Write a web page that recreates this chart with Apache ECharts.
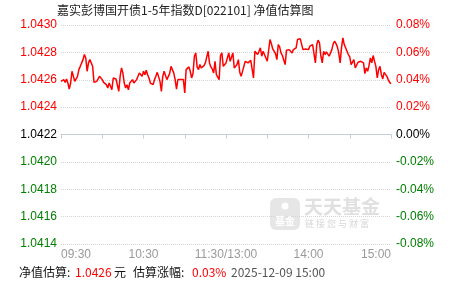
<!DOCTYPE html>
<html><head><meta charset="utf-8">
<script src="https://cdn.jsdelivr.net/npm/echarts@6/dist/echarts.min.js"></script>
<style>html,body{margin:0;padding:0;background:#fff}#c{width:451px;height:281px}</style>
</head><body><div id="c"></div>
<script>
const chartTitle = '嘉实彭博国开债1-5年指数D[022101] 净值估算图';
const timeTickLabels = ['09:30', '', '10:30', '', '11:30/13:00', '', '14:00', '', '15:00'];
const baseNav = 1.0422;
const navMin = 1.0414, navMax = 1.0430, navStep = 0.0002;
const pctMin = -0.08, pctMax = 0.08, pctStep = 0.02;
const estNav = '1.0426';
const estChange = '0.03%';
const estTime = '2025-12-09 15:00';
// one value per trading minute, 09:30 .. 15:00 (241 points)
const navValues = [
  1.042588,1.042576,1.042601,1.042581,1.042606,1.042576,1.042532,1.042576,1.042662,1.042650,
  1.042588,1.042588,1.042625,1.042674,1.042698,1.042723,1.042747,1.042784,1.042759,1.042662,
  1.042723,1.042747,1.042752,1.042698,1.042581,1.042588,1.042588,1.042606,1.042625,1.042613,
  1.042601,1.042581,1.042571,1.042564,1.042540,1.042576,1.042552,1.042527,1.042613,1.042618,
  1.042606,1.042601,1.042515,1.042625,1.042686,1.042650,1.042576,1.042540,1.042564,1.042527,
  1.042576,1.042564,1.042601,1.042576,1.042564,1.042601,1.042625,1.042650,1.042662,1.042625,
  1.042662,1.042637,1.042669,1.042637,1.042613,1.042576,1.042588,1.042564,1.042601,1.042625,
  1.042654,1.042662,1.042588,1.042515,1.042625,1.042662,1.042674,1.042601,1.042613,1.042645,
  1.042698,1.042711,1.042650,1.042601,1.042532,1.042601,1.042613,1.042601,1.042588,1.042601,
  1.042503,1.042674,1.042686,1.042694,1.042662,1.042613,1.042645,1.042772,1.042796,1.042694,
  1.042674,1.042711,1.042686,1.042698,1.042703,1.042723,1.042735,1.042808,1.042723,1.042694,
  1.042679,1.042650,1.042735,1.042637,1.042625,1.042601,1.042777,1.042796,1.042698,1.042703,
  1.042723,1.042759,1.042796,1.042735,1.042747,1.042796,1.042686,1.042698,1.042711,1.042747,
  1.042654,1.042625,1.042613,1.042698,1.042735,1.042723,1.042723,1.042730,1.042742,1.042747,
  1.042613,1.042808,1.042796,1.042784,1.042808,1.042833,1.042772,1.042808,1.042796,1.042759,
  1.042735,1.042723,1.042894,1.042864,1.042825,1.042816,1.042791,1.042747,1.042857,1.042840,
  1.042796,1.042777,1.042791,1.042711,1.042816,1.042820,1.042820,1.042816,1.042796,1.042820,
  1.042816,1.042833,1.042894,1.042906,1.042899,1.042913,1.042820,1.042808,1.042825,1.042833,
  1.042820,1.042845,1.042833,1.042857,1.042869,1.042723,1.042857,1.042889,1.042869,1.042772,
  1.042723,1.042808,1.042784,1.042803,1.042791,1.042772,1.042759,1.042820,1.042864,1.042882,
  1.042864,1.042840,1.042796,1.042723,1.042833,1.042906,1.042857,1.042864,1.042808,1.042784,
  1.042767,1.042711,1.042723,1.042747,1.042686,1.042698,1.042728,1.042723,1.042735,1.042747,
  1.042723,1.042645,1.042686,1.042662,1.042703,1.042759,1.042723,1.042777,1.042735,1.042698,
  1.042613,1.042674,1.042698,1.042637,1.042606,1.042654,1.042650,1.042625,1.042601,1.042581,
  1.042571
];

const FONT = '"Noto Sans CJK SC", "Liberation Sans", sans-serif';
function signColor(diff) {
  if (Math.abs(diff) < 1e-9) return '#000000';
  return diff > 0 ? '#ff0000' : '#008000';
}

const chart = echarts.init(document.getElementById('c'), null, {renderer: 'canvas'});
chart.setOption({
  animation: false,
  backgroundColor: '#ffffff',
  title: [
    {text: chartTitle, left: 57, top: 4, padding: 0,
     textStyle: {fontFamily: FONT, fontSize: 12, fontWeight: 'normal', color: '#222'}},
    {text: '{a|净值估算:}{r|' + estNav + '}{y|元}{b|估算涨幅:}{p|' + estChange + '}{g|' + estTime + '}',
     left: 19, top: 265, padding: 0,
     textStyle: {fontFamily: FONT, fontSize: 12, fontWeight: 'normal',
       rich: {
         a: {fontFamily: FONT, fontSize: 12, color: '#111', lineHeight: 14, width: 56},
         r: {fontFamily: FONT, fontSize: 12, color: '#ff0000', lineHeight: 14, width: 39},
         y: {fontFamily: FONT, fontSize: 12, color: '#111', lineHeight: 14, width: 19},
         b: {fontFamily: FONT, fontSize: 12, color: '#111', lineHeight: 14, width: 59},
         p: {fontFamily: FONT, fontSize: 12, color: '#ff0000', lineHeight: 14, width: 39},
         g: {fontFamily: FONT, fontSize: 12, color: '#555', lineHeight: 14}
       }}}
  ],
  grid: {left: 61, right: 60, top: 25, bottom: 37, containLabel: false},
  xAxis: {
    type: 'value', min: 0, max: 240, interval: 30,
    axisLine: {show: true, lineStyle: {color: '#c4cfda', width: 1}},
    axisTick: {show: true, length: 4, lineStyle: {color: '#c4cfda'}},
    splitLine: {show: false},
    axisLabel: {
      color: '#9a9a9a', fontFamily: '"Liberation Sans", Arial, sans-serif', fontSize: 12, margin: 5,
      alignMinLabel: 'left', alignMaxLabel: 'right', showMinLabel: true, showMaxLabel: true,
      formatter: function (v) { return timeTickLabels[Math.round(v / 30)] || ''; }
    }
  },
  yAxis: [
    {
      type: 'value', min: navMin, max: navMax, interval: navStep, position: 'left',
      axisLine: {show: false}, axisTick: {show: false},
      splitLine: {show: true, lineStyle: {color: '#d4d4d4', type: 'dotted', width: 1}},
      axisLabel: {
        margin: 4, fontFamily: '"Liberation Sans", Arial, sans-serif', fontSize: 12,
        formatter: function (v) { return Number(v).toFixed(4); },
        color: function (v) { return signColor(Number(v) - baseNav); }
      }
    },
    {
      type: 'value', min: pctMin, max: pctMax, interval: pctStep, position: 'right',
      axisLine: {show: false}, axisTick: {show: false}, splitLine: {show: false},
      axisLabel: {
        margin: 5, fontFamily: '"Liberation Sans", Arial, sans-serif', fontSize: 12,
        formatter: function (v) { return Number(v).toFixed(2) + '%'; },
        color: function (v) { return signColor(Number(v)); }
      }
    }
  ],
  graphic: [
    {type: 'rect', z: 0, shape: {x: 270, y: 198, width: 30, height: 32, r: 6}, style: {fill: '#e6e6e6'}},
    {type: 'circle', z: 1, shape: {cx: 285, cy: 206, r: 3.5}, style: {fill: '#ffffff'}},
    {type: 'text', z: 1, x: 285, y: 216, style: {text: '基金', fill: '#ffffff', font: 'bold 10px "Noto Sans CJK SC"', align: 'center'}},
    {type: 'text', z: 0, x: 304, y: 197, style: {text: '天天基金', fill: '#e0e0e0', font: 'bold 19px "Noto Sans CJK SC"'}},
    {type: 'text', z: 0, x: 305, y: 219, style: {text: '链 接 您 与 财 富', fill: '#d6d6d6', font: '9px "Noto Sans CJK SC"'}}
  ],
  series: [{
    type: 'line', xAxisIndex: 0, yAxisIndex: 0,
    data: navValues.map(function (v, i) { return [i, v]; }),
    showSymbol: false, symbol: 'none',
    lineStyle: {color: '#ff0000', width: 1.5},
    z: 5,
    markLine: {
      silent: true, symbol: 'none', label: {show: false},
      lineStyle: {color: '#9a9a9a', type: 'solid', width: 1},
      data: [{yAxis: baseNav}]
    }
  }]
});
</script>
</body></html>
